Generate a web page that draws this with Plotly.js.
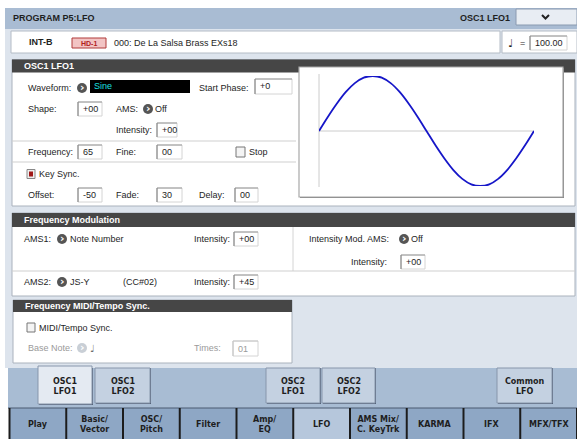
<!DOCTYPE html>
<html><head><meta charset="utf-8">
<script src="https://cdn.plot.ly/plotly-3.0.1.min.js"></script>
<style>html,body{margin:0;padding:0;background:#fff}#plot{width:577px;height:439px}</style>
</head><body><div id="plot"></div>
<script>
// LFO waveform read from the preview (phase in degrees, level in %)
const phaseDeg = [0,15,30,45,60,75,90,105,120,135,150,165,180,195,210,225,240,255,270,285,300,315,330,345,360];
const lfoLevel = [0,26,50,71,87,97,100,97,87,71,50,26,0,-26,-50,-71,-87,-97,-100,-97,-87,-71,-50,-26,0];
const upperTabs = ['OSC1<br>LFO1','OSC1<br>LFO2','OSC2<br>LFO1','OSC2<br>LFO2','Common<br>LFO'];
const bottomTabs = ['Play','Basic/<br>Vector','OSC/<br>Pitch','Filter','Amp/<br>EQ','LFO','AMS Mix/<br>C. KeyTrk','KARMA','IFX','MFX/TFX'];

const W=577,H=439;
const X=v=>v/W, Y=v=>1-v/H;
const shapes=[], ann=[];
const LF='Liberation Sans, Arial, sans-serif';
function rect(x0,y0,x1,y1,fill,lc,lw){shapes.push({type:'rect',xref:'paper',yref:'paper',x0:X(x0),x1:X(x1),y0:Y(y1),y1:Y(y0),fillcolor:fill,line:{color:lc||'rgba(0,0,0,0)',width:lc?(lw||1):0},layer:'below'});}
function ln(x0,y0,x1,y1,c,w){shapes.push({type:'line',xref:'paper',yref:'paper',x0:X(x0),x1:X(x1),y0:Y(y0),y1:Y(y1),line:{color:c,width:w||1},layer:'below'});}
function circ(cx,cy,r,fill){shapes.push({type:'circle',xref:'paper',yref:'paper',x0:X(cx-r),x1:X(cx+r),y0:Y(cy+r),y1:Y(cy-r),fillcolor:fill,line:{width:0},layer:'below'});}
function txt(x,y,t,o){o=o||{};ann.push({xref:'paper',yref:'paper',x:X(x),y:Y(y),text:t,showarrow:false,xanchor:o.xa||'left',yanchor:'middle',align:o.align||'left',borderpad:0,font:{family:o.f||LF,size:o.s||9,color:o.c||'#1e1e1e',weight:o.b?'bold':'normal'}});}
function box(x0,y0,x1,y1,val,grey){rect(x0,y0,x1,y1,'#ffffff','#d4d4d4',1);ln(x0,y0,x1,y0,grey?'#c8c8c8':'#9a9a9a',1);ln(x0,y0,x0,y1,grey?'#c8c8c8':'#8a8a8a',1.2);txt(x0+4,(y0+y1)/2,val,{c:grey?'#9a9a9a':'#1e1e1e'});}
function arrow(cx,cy,grey){circ(cx,cy,5,grey?'#c9cfd6':'#555555');txt(cx,cy-0.5,'›',{xa:'center',c:'#ffffff',s:11,b:true,f:'DejaVu Sans'});}
function panel(x0,y0,x1,y1,hy1,title){rect(x0,y0,x1,y1,'#ffffff','#aab2bd',1);rect(x0,y0,x1,hy1,'#464646');txt(x0+11,(y0+hy1)/2,title,{c:'#ffffff',b:true,s:9});}

// top header
rect(5,8,577,29,'#a9bcd3');
txt(12,17.5,'PROGRAM P5:LFO',{b:true,s:9});
txt(511,17.5,'OSC1 LFO1',{b:true,s:9,xa:'right'});
rect(516,9,577,25,'#e8edf3','#8a9ab0',1);
shapes.push({type:'path',xref:'paper',yref:'paper',path:`M ${X(542)} ${Y(15)} L ${X(545.5)} ${Y(18.5)} L ${X(549)} ${Y(15)}`,line:{color:'#222',width:2},layer:'below'});

// content background
rect(5,29,577,368,'#dde4ed');

// program row
rect(11,31,500,53,'#ffffff','#b4bcc6',1);
txt(28,42.5,'INT-B',{b:true,s:9});
rect(72,38,106,48,'#f2c4c4','#b03a3a',1);
txt(89,43,'HD-1',{xa:'center',c:'#b02020',b:true,s:7});
txt(113,43,'000: De La Salsa Brass EXs18',{s:9});
rect(502,31,577,53,'#ffffff','#b4bcc6',1);
txt(507,43,'♩',{s:11,f:'DejaVu Sans'});
txt(519,43,'=',{s:9});
box(530,36,567,50,'100.00');

// OSC1 LFO1 panel
panel(12,59.5,575,206,72.5,'OSC1 LFO1');
txt(27,88,'Waveform:');
arrow(82,88);
rect(90,80,190,93,'#000000');
txt(93,86.5,'Sine',{c:'#19e0e0'});
txt(198,88,'Start Phase:');
box(255,79,292,94,'+0');
txt(27,109,'Shape:');
box(78,102,102,116,'+00');
txt(115,109,'AMS:');
arrow(148,109);
txt(154,109,'Off');
txt(115,130,'Intensity:');
box(157,123,177,137,'+00');
ln(12,141,296,141,'#cfcfcf',1);
txt(27,152,'Frequency:');
box(78,145,102,159,'65');
txt(115,152,'Fine:');
box(157,145,182,159,'00');
rect(236,147,245,157,'#f4f4f4','#777777',1);
txt(248,152,'Stop');
ln(12,162,296,162,'#cfcfcf',1);
rect(27,169.5,35,178.5,'#eeeeee','#888888',1);
rect(29,171.5,33,176.5,'#a01818');
txt(38,174,'Key Sync.');
txt(27,195,'Offset:');
box(78,188,102,202,'-50');
txt(115,195,'Fade:');
box(157,188,182,202,'30');
txt(198,195,'Delay:');
box(235,188,258,202,'00');

// waveform preview box
rect(300,68,564,198,'#7d7d7d');
rect(299,67,563,197,'#ffffff','#a8a8a8',1.2);
ln(319,74,319,187,'#cccccc',1);
ln(319,131,534,131,'#cccccc',1);

// Frequency Modulation panel
panel(12,213,575,296,227,'Frequency Modulation');
ln(293,227,293,271,'#d4d4d4',1);
ln(12,271,575,271,'#cfcfcf',1);
txt(23,239,'AMS1:');
arrow(62,239);
txt(69,239,'Note Number');
txt(193,239,'Intensity:');
box(234,232,258,246,'+00');
txt(308,239,'Intensity Mod. AMS:');
arrow(404,239);
txt(410,239,'Off');
txt(350,262,'Intensity:');
box(401,255,425,269,'+00');
txt(23,282,'AMS2:');
arrow(62,282);
txt(69,282,'JS-Y');
txt(122,282,'(CC#02)');
txt(193,282,'Intensity:');
box(234,275,258,289,'+45');

// Frequency MIDI/Tempo Sync panel
panel(13,300,292,363,312,'Frequency MIDI/Tempo Sync.');
rect(27,323,35,332,'#f4f4f4','#777777',1);
txt(38,327.5,'MIDI/Tempo Sync.');
txt(27,348,'Base Note:',{c:'#9a9a9a'});
arrow(82,348,true);
txt(89,348,'♩',{s:10,f:'DejaVu Sans',c:'#6a6a6a'});
txt(193,348,'Times:',{c:'#9a9a9a'});
box(233,341,258,356,'01',true);

// tab bar
rect(8,368,577,408,'#a8bcd3');
const upX=[[38,92],[95,150],[266,320],[322,375],[497,552]];
upperTabs.forEach((t,i)=>{
  const [a,b]=upX[i]; const sel=i===0;
  rect(a+1,368,b+1,(sel?404:403)+1,'#56657a');
  rect(a,sel?366:368,b,sel?404:403,sel?'#e4eaf2':'#c4d1e1','#8796ab',1);
  txt((a+b)/2,386,t,{xa:'center',align:'center',b:true,s:8,f:'DejaVu Sans'});
});
const bx0=9.5,bw=56.75;
bottomTabs.forEach((t,i)=>{
  const a=bx0+i*bw,b=a+bw;
  rect(a,408,b,439,i===5?'#b6c7dc':'#8ea7c5');
  txt((a+b)/2,424,t,{xa:'center',align:'center',b:true,s:8,f:'DejaVu Sans'});
});
ln(8,408,577,408,'#4a5a70',1);
for(let i=0;i<=10;i++){ln(bx0+i*bw,408,bx0+i*bw,439,'#1c1c1c',2);}

const trace={x:phaseDeg,y:lfoLevel,type:'scatter',mode:'lines',line:{color:'#1616c8',width:1.8,shape:'spline'},hoverinfo:'skip'};
const layout={width:577,height:439,margin:{l:0,r:0,t:0,b:0},paper_bgcolor:'#ffffff',plot_bgcolor:'rgba(0,0,0,0)',showlegend:false,
  xaxis:{domain:[X(319),X(534)],range:[0,360],visible:false,fixedrange:true},
  yaxis:{domain:[Y(186),Y(76)],range:[-100,100],visible:false,fixedrange:true},
  shapes:shapes,annotations:ann};
Plotly.newPlot('plot',[trace],layout,{displayModeBar:false,staticPlot:true});
</script></body></html>
